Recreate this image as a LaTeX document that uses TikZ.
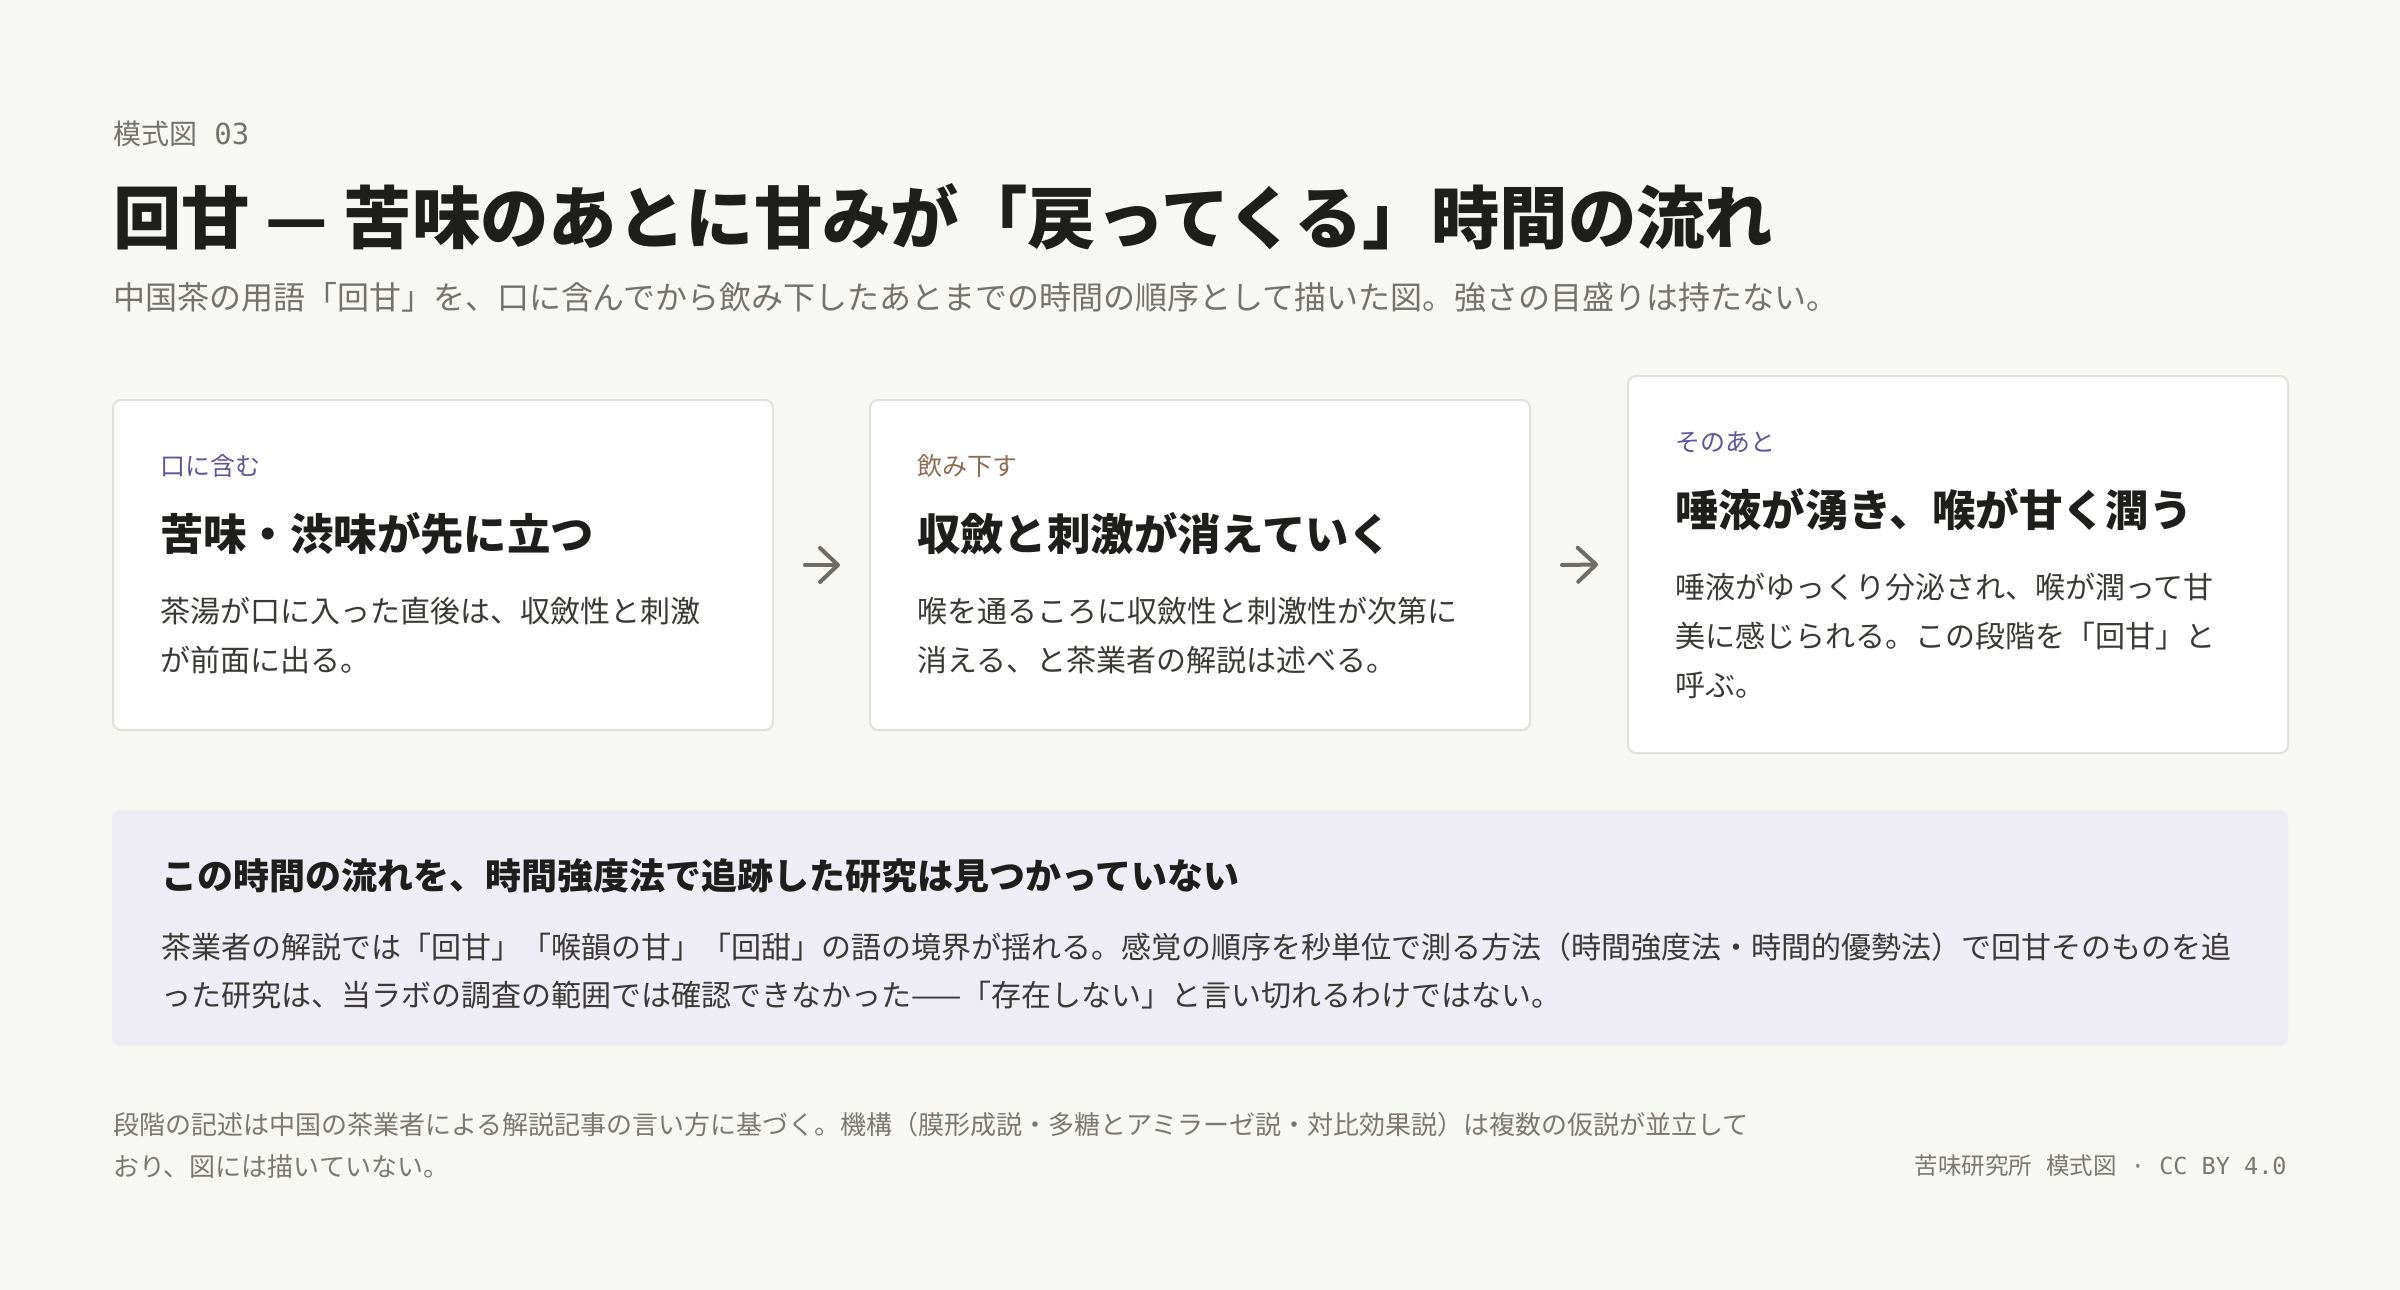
\documentclass[tikz,border=0pt]{standalone}
\usepackage{fontspec}
\setmainfont{Noto Sans CJK JP}
\newfontfamily\jp{Noto Sans CJK JP}
\newfontfamily\mono{DejaVu Sans Mono}
\usetikzlibrary{arrows.meta}
\definecolor{bg}{HTML}{F7F7F3}
\definecolor{titlecol}{HTML}{1E1E1C}
\definecolor{subcol}{HTML}{74726B}
\definecolor{bodycol}{HTML}{3A3936}
\definecolor{purplecol}{HTML}{5D5799}
\definecolor{browncol}{HTML}{8C6D52}
\definecolor{arrowcol}{HTML}{6E6C64}
\definecolor{cardline}{HTML}{E2E0D8}
\definecolor{notefill}{HTML}{EEECF5}
\definecolor{footcol}{HTML}{7A786F}
\tikzset{
  txt/.style={inner sep=0pt, outer sep=0pt, anchor=base west},
  card/.style={draw=cardline, line width=1pt, fill=white, rounded corners=4pt, minimum width=330pt, inner sep=0pt},
  stagelabel/.style={txt, font=\jp\fontsize{12.5}{15}\selectfont},
  stagehead/.style={txt, text=titlecol, font=\jp\bfseries\fontsize{21.7}{26}\selectfont},
  stagebody/.style={txt, text=bodycol, font=\jp\fontsize{15}{24.5}\selectfont},
  flowarrow/.style={draw=arrowcol, line width=2pt, line cap=round, -{Straight Barb[length=9pt,width=17pt,line cap=round,line join=round]}},
}
\begin{document}
\begin{tikzpicture}[x=0.5pt,y=-0.5pt]
\useasboundingbox[fill=bg] (0,0) rectangle (2400,1290);

% header
\node[txt, text=subcol, font=\jp\fontsize{14}{17}\selectfont] (kicker) at (113,144) {模式図{\mono\fontsize{14.5}{17}\selectfont\ 03}};
\node[txt, text=titlecol, font=\jp\bfseries\fontsize{34.2}{42}\selectfont] (title) at (113,243) {回甘 — 苦味のあとに甘みが「戻ってくる」時間の流れ};
\node[txt, text=subcol, font=\jp\fontsize{16}{20}\selectfont] (subtitle) at (113,309) {中国茶の用語「回甘」を、口に含んでから飲み下したあとまでの時間の順序として描いた図。強さの目盛りは持たない。};

% cards
\node[card, minimum height=165pt] (c1) at (443,565) {};
\node[card, minimum height=165pt] (c2) at (1200,565) {};
\node[card, minimum height=188.5pt] (c3) at (1958,564.5) {};

\node[stagelabel, text=purplecol] (l1) at ([xshift=24pt,yshift=-38pt]c1.north west) {口に含む};
\node[stagehead] (h1) at ([xshift=24pt,yshift=-75.5pt]c1.north west) {苦味・渋味が先に立つ};
\node[stagebody] (b1) at ([xshift=24pt,yshift=-111.5pt]c1.north west) {\vtop{\hbox{茶湯が口に入った直後は、収斂性と刺激}\hbox{が前面に出る。}}};

\node[stagelabel, text=browncol] (l2) at ([xshift=24pt,yshift=-38pt]c2.north west) {飲み下す};
\node[stagehead] (h2) at ([xshift=24pt,yshift=-75.5pt]c2.north west) {収斂と刺激が消えていく};
\node[stagebody] (b2) at ([xshift=24pt,yshift=-111.5pt]c2.north west) {\vtop{\hbox{喉を通るころに収斂性と刺激性が次第に}\hbox{消える、と茶業者の解説は述べる。}}};

\node[stagelabel, text=purplecol] (l3) at ([xshift=24pt,yshift=-38pt]c3.north west) {そのあと};
\node[stagehead] (h3) at ([xshift=24pt,yshift=-75.5pt]c3.north west) {唾液が湧き、喉が甘く潤う};
\node[stagebody] (b3) at ([xshift=24pt,yshift=-111.5pt]c3.north west) {\vtop{\hbox{唾液がゆっくり分泌され、喉が潤って甘}\hbox{美に感じられる。この段階を「回甘」と}\hbox{呼ぶ。}}};

% arrows
\draw[flowarrow] ([xshift=15.5pt]c1.east) -- ([xshift=-14.5pt]c2.west);
\draw[flowarrow] ([xshift=15.5pt]c2.east) -- ([xshift=-14.5pt]c3.west);

% note box
\node[fill=notefill, rounded corners=4pt, minimum width=1088pt, minimum height=118pt, inner sep=0pt] (note) at (1200,928) {};
\node[txt, text=titlecol, font=\jp\bfseries\fontsize{18}{22}\selectfont] (nh) at ([xshift=25pt,yshift=-40pt]note.north west) {この時間の流れを、時間強度法で追跡した研究は見つかっていない};
\node[txt, text=bodycol, font=\jp\fontsize{15}{24}\selectfont] (nb) at ([xshift=25pt,yshift=-74.5pt]note.north west) {\vtop{\hbox{茶業者の解説では「回甘」「喉韻の甘」「回甜」の語の境界が揺れる。感覚の順序を秒単位で測る方法（時間強度法・時間的優勢法）で回甘そのものを追}\hbox{った研究は、当ラボの調査の範囲では確認できなかった——「存在しない」と言い切れるわけではない。}}};

% footer
\node[txt, text=footcol, font=\jp\fontsize{13}{21}\selectfont] (foot) at (113,1134) {\vtop{\hbox{段階の記述は中国の茶業者による解説記事の言い方に基づく。機構（膜形成説・多糖とアミラーゼ説・対比効果説）は複数の仮説が並立して}\hbox{おり、図には描いていない。}}};
\node[inner sep=0pt, anchor=base east, text=footcol, font=\jp\fontsize{11.75}{14}\selectfont] (credit) at (2287,1174) {苦味研究所{\mono\ }模式図{\mono\ ·\ CC\ BY\ 4.0}};
\end{tikzpicture}
\end{document}
